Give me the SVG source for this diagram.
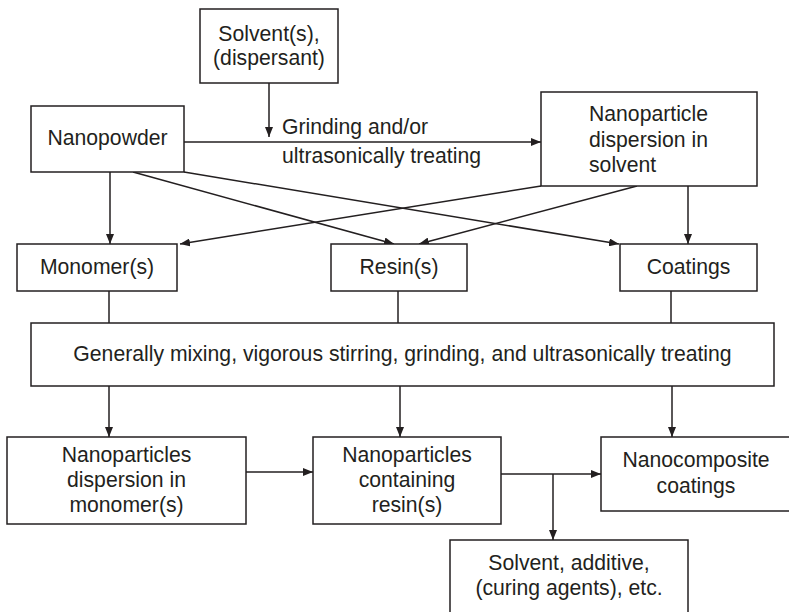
<svg xmlns="http://www.w3.org/2000/svg" width="789" height="612" viewBox="0 0 789 612">
<defs>
<marker id="ah" markerWidth="10" markerHeight="8" refX="10" refY="4" orient="auto" markerUnits="userSpaceOnUse">
<path d="M0,0 L10,4 L0,8 Z" fill="#231f20"/>
</marker>
<style>
rect{fill:#fff;stroke:#231f20;stroke-width:1.5}
text{font-family:"Liberation Sans",Arial,sans-serif;font-size:21.2px;fill:#231f20}
.c{text-anchor:middle}
.ln{stroke:#231f20;stroke-width:1.5;fill:none}
.ar{marker-end:url(#ah)}
</style>
</defs>
<rect x="0" y="0" width="789" height="612" style="fill:#fff;stroke:none"/>
<g id="connectors">
<line class="ln ar" x1="269" y1="83" x2="269" y2="137"/>
<line class="ln ar" x1="184" y1="142" x2="541" y2="142"/>
<line class="ln ar" x1="110" y1="172" x2="110" y2="244"/>
<line class="ln ar" x1="133" y1="172" x2="394" y2="244"/>
<line class="ln ar" x1="184" y1="172" x2="619" y2="244"/>
<line class="ln ar" x1="541" y1="186" x2="180" y2="244"/>
<line class="ln ar" x1="637" y1="186" x2="419" y2="244"/>
<line class="ln ar" x1="688" y1="186" x2="688" y2="244"/>
<line class="ln" x1="109" y1="291" x2="109" y2="323"/>
<line class="ln" x1="398" y1="291" x2="398" y2="323"/>
<line class="ln" x1="671" y1="291" x2="671" y2="323"/>
<line class="ln ar" x1="109" y1="386" x2="109" y2="437"/>
<line class="ln ar" x1="400" y1="386" x2="400" y2="437"/>
<line class="ln ar" x1="672" y1="386" x2="672" y2="437"/>
<line class="ln ar" x1="246" y1="472" x2="313" y2="472"/>
<line class="ln ar" x1="501" y1="474" x2="601" y2="474"/>
<line class="ln ar" x1="553" y1="474" x2="553" y2="540"/>
<text x="282" y="134">Grinding and/or</text>
<text x="282" y="163">ultrasonically treating</text>
</g>
<g id="solvent">
<rect x="200" y="9" width="138" height="74"/>
<text class="c" x="269" y="41">Solvent(s),</text>
<text class="c" x="269" y="65">(dispersant)</text>
</g>
<g id="nanopowder">
<rect x="31" y="106" width="153" height="66"/>
<text class="c" x="107.5" y="145">Nanopowder</text>
</g>
<g id="dispersion-solvent">
<rect x="541" y="92" width="216" height="94"/>
<text x="589" y="121">Nanoparticle</text>
<text x="589" y="147">dispersion in</text>
<text x="589" y="172">solvent</text>
</g>
<g id="monomer">
<rect x="17" y="244" width="160" height="47"/>
<text class="c" x="97" y="274">Monomer(s)</text>
</g>
<g id="resin">
<rect x="331" y="244" width="136" height="47"/>
<text class="c" x="399" y="274">Resin(s)</text>
</g>
<g id="coatings">
<rect x="620" y="244" width="137" height="47"/>
<text class="c" x="688.5" y="274">Coatings</text>
</g>
<g id="mixing">
<rect x="31" y="323" width="743" height="63"/>
<text class="c" x="402.5" y="361">Generally mixing, vigorous stirring, grinding, and ultrasonically treating</text>
</g>
<g id="dispersion-monomer">
<rect x="7" y="437" width="239" height="87"/>
<text class="c" x="126.5" y="462">Nanoparticles</text>
<text class="c" x="126.5" y="487">dispersion in</text>
<text class="c" x="126.5" y="512">monomer(s)</text>
</g>
<g id="containing-resin">
<rect x="313" y="437" width="188" height="87"/>
<text class="c" x="407" y="462">Nanoparticles</text>
<text class="c" x="407" y="487">containing</text>
<text class="c" x="407" y="512">resin(s)</text>
</g>
<g id="nanocomposite">
<rect x="601" y="437" width="200" height="74"/>
<text class="c" x="696" y="467">Nanocomposite</text>
<text class="c" x="696" y="493">coatings</text>
</g>
<g id="additives">
<rect x="450" y="540" width="238" height="80"/>
<text class="c" x="569" y="570">Solvent, additive,</text>
<text class="c" x="569" y="595">(curing agents), etc.</text>
</g>
</svg>
